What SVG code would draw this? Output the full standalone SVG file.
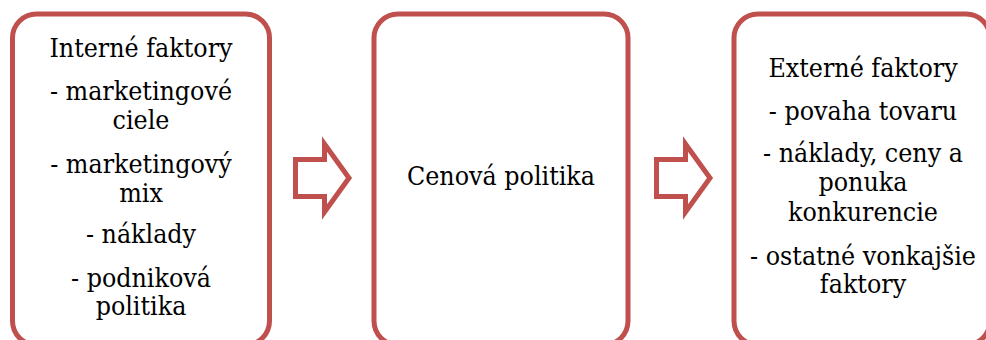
<svg xmlns="http://www.w3.org/2000/svg" width="986" height="340" viewBox="0 0 986 340">
<style>
.box{fill:#fff;stroke:#C0504D;stroke-width:5}
.arr{fill:#fff;stroke:#C0504D;stroke-width:5;stroke-linejoin:miter;stroke-miterlimit:10}
.t{font-family:'DejaVu Serif',serif;font-stretch:condensed;font-size:26.5px;fill:#000;text-anchor:middle}
</style>
<rect width="986" height="340" fill="#fff"/>
<g id="interne" class="t">
<rect class="box" x="12.5" y="14" width="257" height="331" rx="24" ry="24"/>
<text x="141" y="57">Interné faktory</text>
<text x="141" y="100">- marketingové</text>
<text x="141" y="129">ciele</text>
<text x="141" y="173">- marketingový</text>
<text x="141" y="202">mix</text>
<text x="141" y="243">- náklady</text>
<text x="141" y="287">- podniková</text>
<text x="141" y="315">politika</text>
</g>
<g id="cenova" class="t">
<rect class="box" x="374" y="14" width="254" height="331" rx="24" ry="24"/>
<text x="501" y="185">Cenová politika</text>
</g>
<g id="externe" class="t">
<rect class="box" x="734" y="14" width="256" height="331" rx="24" ry="24"/>
<text x="863" y="77">Externé faktory</text>
<text x="863" y="120">- povaha tovaru</text>
<text x="863" y="162">- náklady, ceny a</text>
<text x="863" y="191">ponuka</text>
<text x="863" y="221">konkurencie</text>
<text x="863" y="265">- ostatné vonkajšie</text>
<text x="863" y="293">faktory</text>
</g>
<g id="connectors">
<path class="arr" d="M295.5,159.5 H324.5 V144 L349,178 L324.5,212 V196.5 H295.5 Z"/>
<path class="arr" d="M656.5,159.5 H685.5 V144 L710,178 L685.5,212 V196.5 H656.5 Z"/>
</g>
</svg>
